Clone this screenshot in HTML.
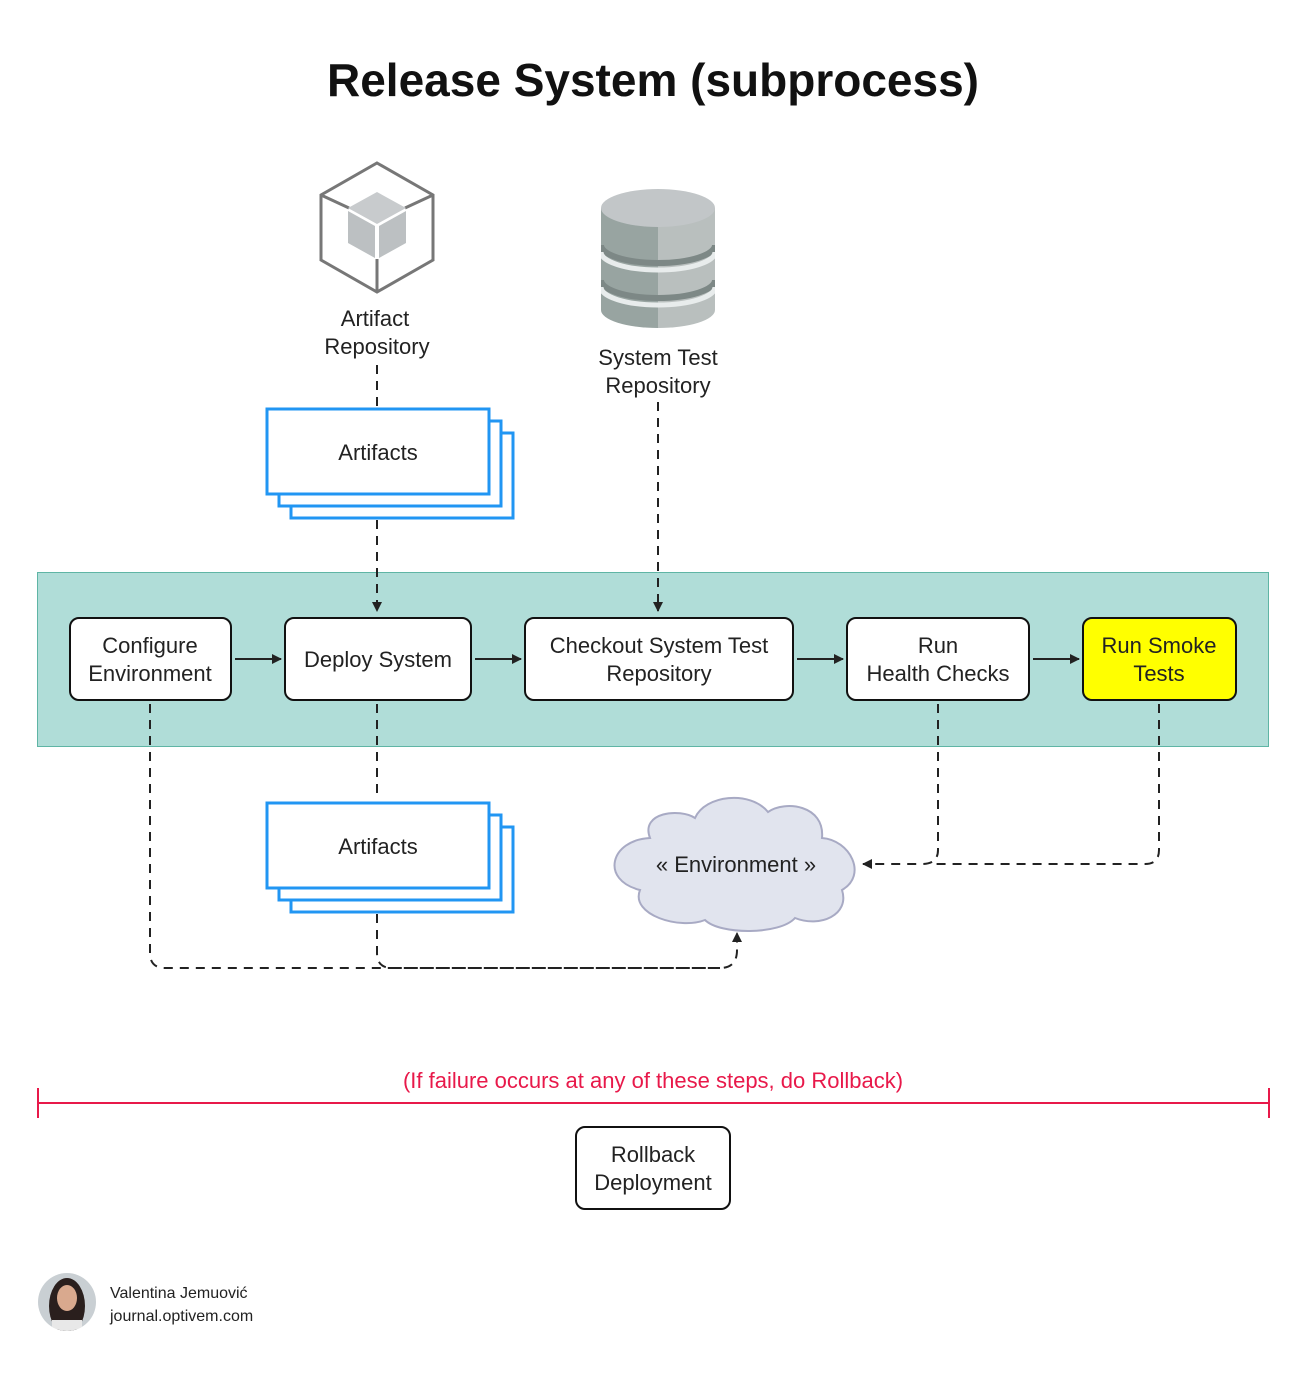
<!DOCTYPE html>
<html><head><meta charset="utf-8"><style>
html,body{margin:0;padding:0;background:#fff;}
svg{display:block;font-family:"Liberation Sans",sans-serif;}
</style></head><body>
<svg width="1306" height="1385" viewBox="0 0 1306 1385" xmlns="http://www.w3.org/2000/svg">
<defs>
<marker id="ah" markerWidth="10" markerHeight="10" refX="9" refY="5" orient="auto" markerUnits="userSpaceOnUse">
<path d="M0,0 L10,5 L0,10 z" fill="#222"/></marker>
<clipPath id="db"><path d="M601,208 L601,310 A57,18 0 0 0 715,310 L715,208 z"/></clipPath>
</defs>
<rect width="1306" height="1385" fill="#fff"/>
<text x="653" y="96" text-anchor="middle" font-size="46" font-weight="bold" fill="#111">Release System (subprocess)</text>

<!-- band -->
<rect x="37.5" y="572.5" width="1231" height="174" fill="#b0ddd8" stroke="#5fb5a5" stroke-width="1"/>

<!-- cube icon -->
<g stroke="#777" stroke-width="3" fill="none">
<polygon points="377,163 433,195 433,260 377,292 321,260 321,195"/>
<line x1="321" y1="195" x2="349" y2="208"/><line x1="433" y1="195" x2="405" y2="208"/>
<line x1="377" y1="292" x2="377" y2="259"/>
</g>
<polygon points="377,192 406,208 377,224 348,208" fill="#c8cbcd"/>
<polygon points="348,211 375,226 375,258 348,243" fill="#bcc0c2"/>
<polygon points="379,226 406,211 406,243 379,258" fill="#bcc0c2"/>
<text x="375" y="326" text-anchor="middle" font-size="22" fill="#222">Artifact</text>
<text x="377" y="354" text-anchor="middle" font-size="22" fill="#222">Repository</text>

<!-- database -->
<g clip-path="url(#db)">
<rect x="601" y="190" width="57" height="150" fill="#98a4a1"/>
<rect x="658" y="190" width="57" height="150" fill="#b9bfbe"/>
<path d="M601,245 A57,18 0 0 0 715,245" fill="none" stroke="#7d8886" stroke-width="6"/>
<path d="M601,252 A57,18 0 0 0 715,252" fill="none" stroke="#e8ecec" stroke-width="5"/>
<path d="M601,280 A57,18 0 0 0 715,280" fill="none" stroke="#7d8886" stroke-width="6"/>
<path d="M601,287 A57,18 0 0 0 715,287" fill="none" stroke="#e8ecec" stroke-width="5"/>
</g>
<ellipse cx="658" cy="208" rx="57" ry="19" fill="#c2c6c8"/>
<text x="658" y="365" text-anchor="middle" font-size="22" fill="#222">System Test</text>
<text x="658" y="393" text-anchor="middle" font-size="22" fill="#222">Repository</text>

<!-- dashed lines -->
<g stroke="#222" stroke-width="2" fill="none" stroke-dasharray="9,7">
<line x1="377" y1="365" x2="377" y2="408"/>
<line x1="377" y1="520" x2="377" y2="611" marker-end="url(#ah)"/>
<line x1="658" y1="402" x2="658" y2="611" marker-end="url(#ah)"/>
</g>

<!-- artifacts top -->
<g stroke="#2196f3" stroke-width="3" fill="#fff">
<rect x="291" y="433" width="222" height="85"/>
<rect x="279" y="421" width="222" height="85"/>
<rect x="267" y="409" width="222" height="85"/>
</g>
<text x="378" y="460" text-anchor="middle" font-size="22" fill="#222">Artifacts</text>

<g stroke="#111" stroke-width="2" fill="#fff">
<rect x="70" y="618" width="161" height="82" rx="9"/>
<rect x="285" y="618" width="186" height="82" rx="9"/>
<rect x="525" y="618" width="268" height="82" rx="9"/>
<rect x="847" y="618" width="182" height="82" rx="9"/>
<rect x="1083" y="618" width="153" height="82" rx="9" fill="#ffff00"/>
<rect x="576" y="1127" width="154" height="82" rx="9"/>
</g>
<g font-size="22" fill="#222" text-anchor="middle">
<text x="150" y="653">Configure</text><text x="150" y="681">Environment</text>
<text x="378" y="667">Deploy System</text>
<text x="659" y="653">Checkout System Test</text><text x="659" y="681">Repository</text>
<text x="938" y="653">Run</text><text x="938" y="681">Health Checks</text>
<text x="1159" y="653">Run Smoke</text><text x="1159" y="681">Tests</text>
<text x="653" y="1162">Rollback</text><text x="653" y="1190">Deployment</text>
</g>
<g stroke="#222" stroke-width="2">
<line x1="235" y1="659" x2="281" y2="659" marker-end="url(#ah)"/>
<line x1="475" y1="659" x2="521" y2="659" marker-end="url(#ah)"/>
<line x1="797" y1="659" x2="843" y2="659" marker-end="url(#ah)"/>
<line x1="1033" y1="659" x2="1079" y2="659" marker-end="url(#ah)"/>
</g>

<!-- bottom dashed -->
<g stroke="#222" stroke-width="2" fill="none" stroke-dasharray="9,7">
<line x1="377" y1="704" x2="377" y2="800"/>
<path d="M150,704 L150,953 Q150,968 165,968 L720,968 Q737,968 737,950 L737,933" marker-end="url(#ah)"/>
<path d="M377,914 L377,953 Q377,968 392,968 L720,968"/>
<path d="M938,704 L938,850 Q938,864 922,864 L863,864" marker-end="url(#ah)"/>
<path d="M1159,704 L1159,850 Q1159,864 1145,864 L930,864"/>
</g>

<!-- artifacts bottom -->
<g stroke="#2196f3" stroke-width="3" fill="#fff">
<rect x="291" y="827" width="222" height="85"/>
<rect x="279" y="815" width="222" height="85"/>
<rect x="267" y="803" width="222" height="85"/>
</g>
<text x="378" y="854" text-anchor="middle" font-size="22" fill="#222">Artifacts</text>

<!-- cloud -->
<path d="M650,838 C640,812 680,808 695,818 C705,795 750,790 768,812 C785,800 825,805 822,838 C850,840 868,875 842,890 C850,915 820,928 795,918 C780,935 720,935 705,920 C680,930 630,915 640,890 C600,880 610,840 650,838 z" fill="#e1e4ee" stroke="#a8aac4" stroke-width="2"/>
<text x="736" y="872" text-anchor="middle" font-size="22" fill="#222">« Environment »</text>

<!-- failure -->
<text x="653" y="1088" text-anchor="middle" font-size="22" fill="#e8194a">(If failure occurs at any of these steps, do Rollback)</text>
<g stroke="#e8194a" stroke-width="2">
<line x1="37" y1="1103" x2="1269" y2="1103"/>
<line x1="38" y1="1088" x2="38" y2="1118"/>
<line x1="1269" y1="1088" x2="1269" y2="1118"/>
</g>

<!-- footer -->
<clipPath id="av"><circle cx="67" cy="1302" r="29"/></clipPath>
<g clip-path="url(#av)">
<rect x="38" y="1273" width="58" height="58" fill="#c9cfd3"/>
<ellipse cx="67" cy="1306" rx="18" ry="28" fill="#2a1f1d"/>
<ellipse cx="67" cy="1298" rx="10" ry="13" fill="#d9a98e"/>
<rect x="52" y="1320" width="30" height="14" fill="#e8e8e8"/>
</g>
<text x="110" y="1298" font-size="16" fill="#222">Valentina Jemuović</text>
<text x="110" y="1321" font-size="16" fill="#222">journal.optivem.com</text>
</svg>
</body></html>
